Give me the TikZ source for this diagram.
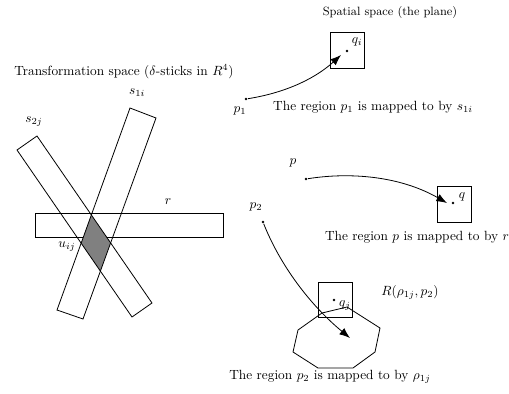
\documentclass[tikz,border=0pt]{standalone}
\usetikzlibrary{arrows.meta}
\begin{document}
\begin{tikzpicture}[x=0.75pt,y=-0.75pt,line width=0.6pt,
  dot/.style={circle,fill=black,inner sep=0pt,minimum size=2.2pt},
  lab/.style={inner sep=0pt},
  arr/.style={-{Latex[length=8pt,width=6pt]}}]
\useasboundingbox (0,0) rectangle (509,393);
% sticks
\coordinate (ra) at (35,213); \coordinate (rb) at (223,237);
\draw (ra) rectangle (rb);
\begin{scope}
\clip (57,310) -- (83,319) -- (156,118) -- (130,108) -- cycle;
\fill[black!50] (17,150) -- (37,136) -- (152,303) -- (132,317) -- cycle;
\end{scope}
\draw (57,310) -- (83,319) -- (156,118) -- (130,108) -- cycle;
\draw (17,150) -- (37,136) -- (152,303) -- (132,317) -- cycle;
\node[lab] (title) at (124,72) {Transformation space ($\delta$-sticks in $R^4$)};
\node[lab] (s1i) at (137,93) {$s_{1i}$};
\node[lab] (s2j) at (34,122) {$s_{2j}$};
\node[lab] (rl) at (168,202) {$r$};
\node[lab] (uij) at (67,247) {$u_{ij}$};
% spatial space
\node[lab] (spt) at (390,12) {\small Spatial space (the plane)};
\draw (330,32) rectangle (364,68);
\node[dot] (qi) at (347,51) {};
\node[lab] (qil) at (357,42) {$q_i$};
\node[dot] (p1) at (246,99) {};
\node[lab] (p1l) at (240,111) {$p_1$};
\draw[arr] (p1) .. controls (290,92) and (318,76) .. (341,55);
\node[lab] (t1) at (373,107) {The region $p_1$ is mapped to by $s_{1i}$};
% p
\node[lab] (pl) at (293,163) {$p$};
\node[dot] (p) at (306,179) {};
\draw (437,186) rectangle (471,222);
\node[dot] (q) at (453,203) {};
\node[lab] (ql) at (462,197) {$q$};
\draw[arr] (p) .. controls (350,172) and (400,176) .. (447,203);
\node[lab] (t2) at (417,237) {The region $p$ is mapped to by $r$};
% p2
\node[lab] (p2l) at (256,207) {$p_2$};
\node[dot] (p2) at (263,222) {};
\draw (318,282) rectangle (352,317);
\node[dot] (qj) at (334,300) {};
\node[lab] (qjl) at (345,306) {$q_j$};
\node[lab] (Rl) at (410,292) {$R(\rho_{1j},p_2)$};
\draw (293,352) -- (298,330) -- (322,313) -- (347,307) -- (380,328) -- (375,352) -- (353,368) -- (318,368) -- cycle;
\draw[arr] (p2) .. controls (280,265) and (310,305) .. (350,338);
\node[lab] (t3) at (330,377) {The region $p_2$ is mapped to by $\rho_{1j}$};
\end{tikzpicture}
\end{document}
